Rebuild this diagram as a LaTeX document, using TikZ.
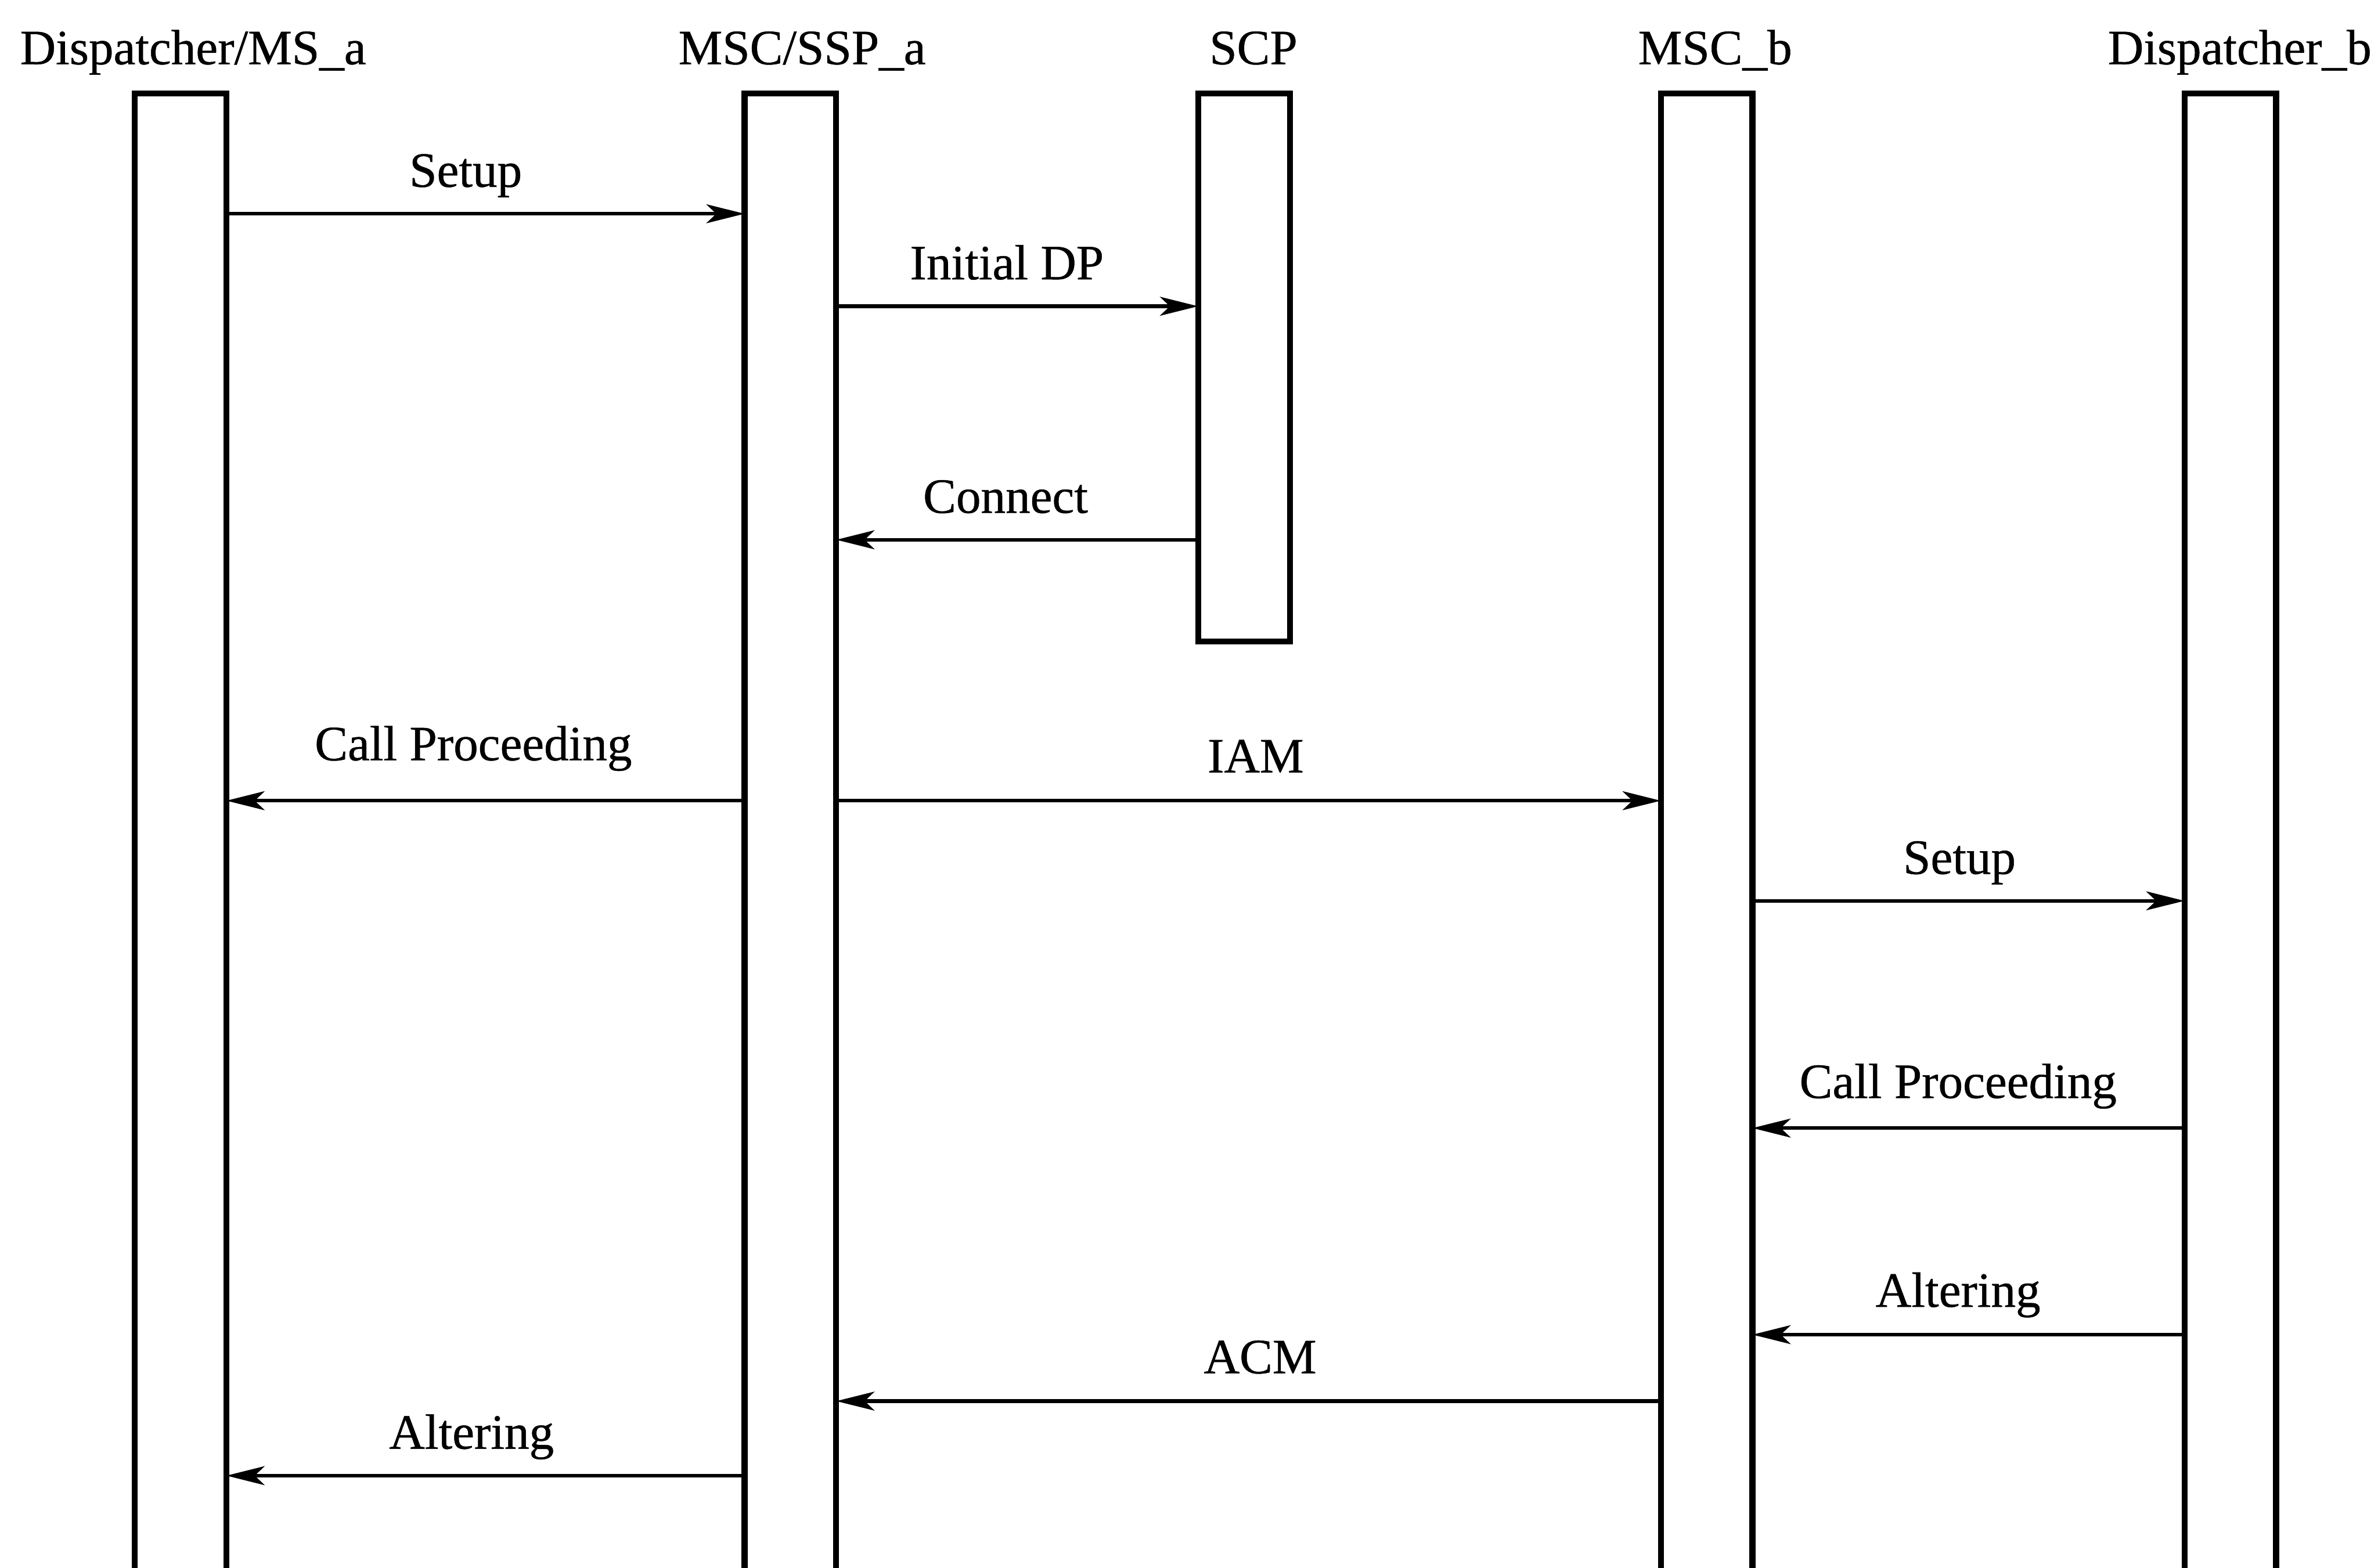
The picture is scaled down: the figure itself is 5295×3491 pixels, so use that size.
\documentclass[tikz,border=0pt]{standalone}
\usepackage{fontspec}
\setmainfont{Liberation Serif}[BoldFont={Liberation Serif}, BoldFeatures={FakeBold=0.6}]
\usetikzlibrary{arrows.meta}
\begin{document}
\begin{tikzpicture}[x=0.01cm,y=-0.01cm,
  lifebar/.style={draw=black, line width=0.13cm, minimum width=2.04cm, anchor=north, inner sep=0pt, outer sep=0pt},
  head/.style={font=\fontsize{31.3}{37}\selectfont\bfseries, anchor=base, inner sep=0pt},
  msglabel/.style={font=\fontsize{31.3}{37}\selectfont\bfseries, anchor=base, inner sep=0pt},
  msg/.style={line width=0.08cm, -{Stealth[length=0.85cm,width=0.42cm,inset=0.22cm]}}]
\useasboundingbox (0,0) rectangle (5295,3491);
% lifelines
\node[lifebar, minimum height=33.2cm] (d1) at (402,208) {};
\node[lifebar, minimum height=33.2cm] (d2) at (1760,208) {};
\node[lifebar, minimum height=12.2cm] (scp) at (2770,208) {};
\node[lifebar, minimum height=33.2cm] (mb) at (3800,208) {};
\node[lifebar, minimum height=33.2cm] (db) at (4966,208) {};
% headings
\node[head] (h1) at (430,143) {Dispatcher/MS\_a};
\node[head] (h2) at (1786,143) {MSC/SSP\_a};
\node[head] (h3) at (2791,143) {SCP};
\node[head] (h4) at (3819,143) {MSC\_b};
\node[head] (h5) at (4987,143) {Dispatcher\_b};
% messages
\draw[msg] (d1.east |- 0,476) -- (d2.west |- 0,476);
\node[msglabel] (l1) at (1037,416) {Setup};
\draw[msg] (d2.east |- 0,682) -- (scp.west |- 0,682);
\node[msglabel] (l2) at (2242,622) {Initial DP};
\draw[msg] (scp.west |- 0,1202) -- (d2.east |- 0,1202);
\node[msglabel] (l3) at (2239,1142) {Connect};
\draw[msg] (d2.west |- 0,1783) -- (d1.east |- 0,1783);
\node[msglabel] (l4) at (1054,1693) {Call Proceeding};
\draw[msg] (d2.east |- 0,1783) -- (mb.west |- 0,1783);
\node[msglabel] (l5) at (2796,1720) {IAM};
\draw[msg] (mb.east |- 0,2006) -- (db.west |- 0,2006);
\node[msglabel] (l6) at (4363,1946) {Setup};
\draw[msg] (db.west |- 0,2512) -- (mb.east |- 0,2512);
\node[msglabel] (l7) at (4360,2445) {Call Proceeding};
\draw[msg] (db.west |- 0,2972) -- (mb.east |- 0,2972);
\node[msglabel] (l8) at (4360,2910) {Altering};
\draw[msg] (mb.west |- 0,3120) -- (d2.east |- 0,3120);
\node[msglabel] (l9) at (2806,3058) {ACM};
\draw[msg] (d2.west |- 0,3286) -- (d1.east |- 0,3286);
\node[msglabel] (l10) at (1050,3226) {Altering};
\end{tikzpicture}
\end{document}
